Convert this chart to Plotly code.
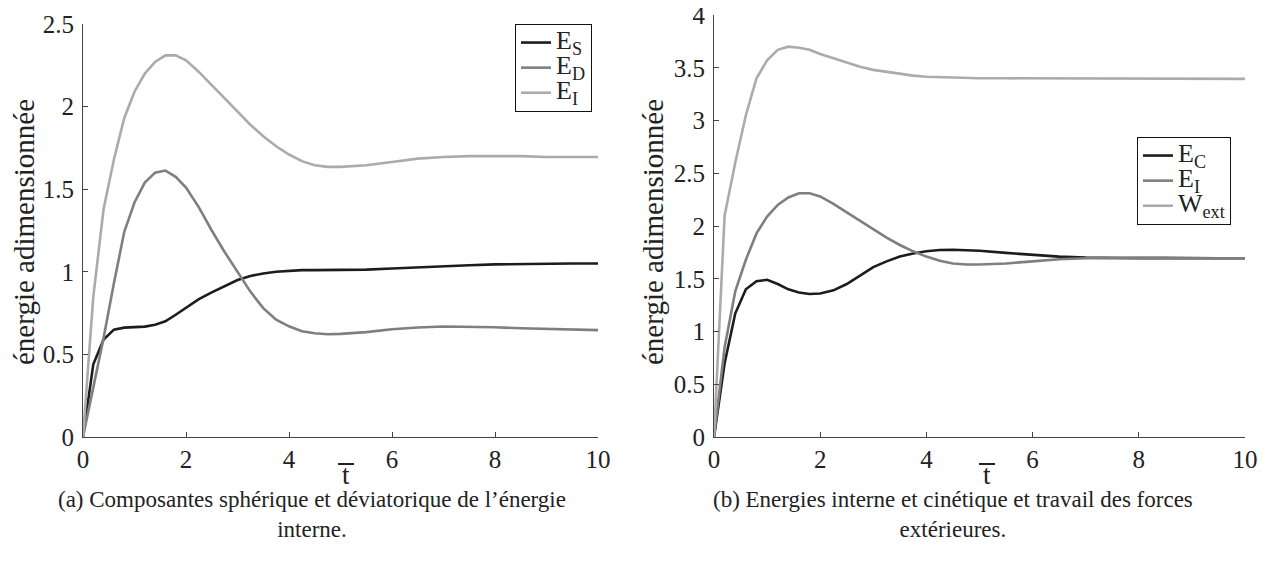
import plotly.graph_objects as go

# ---------------- data ----------------
t = [0, 0.2, 0.4, 0.6, 0.8, 1.0, 1.2, 1.4, 1.6, 1.8, 2.0,
     2.25, 2.5, 2.75, 3.0, 3.25, 3.5, 3.75, 4.0, 4.25, 4.5, 4.75, 5.0,
     5.5, 6.0, 6.5, 7.0, 7.5, 8.0, 8.5, 9.0, 9.5, 10.0]

# (a) spherical / deviatoric components of internal energy
E_S = [0, 0.44, 0.59, 0.65, 0.662, 0.665, 0.668, 0.68, 0.70, 0.74, 0.78,
       0.835, 0.875, 0.915, 0.95, 0.975, 0.99, 1.0, 1.005, 1.01, 1.01, 1.01, 1.01,
       1.013, 1.02, 1.028, 1.035, 1.04, 1.045, 1.048, 1.05, 1.05, 1.05]
E_D = [0, 0.30, 0.60, 0.93, 1.24, 1.42, 1.54, 1.60, 1.613, 1.575, 1.51,
       1.39, 1.25, 1.12, 1.0, 0.88, 0.78, 0.71, 0.67, 0.64, 0.628, 0.622, 0.624,
       0.635, 0.652, 0.663, 0.669, 0.668, 0.664, 0.658, 0.653, 0.649, 0.647]
E_I = [0, 0.85, 1.38, 1.68, 1.93, 2.09, 2.20, 2.27, 2.31, 2.31, 2.28,
       2.21, 2.13, 2.05, 1.97, 1.89, 1.82, 1.76, 1.71, 1.67, 1.645, 1.635, 1.635,
       1.645, 1.665, 1.685, 1.695, 1.70, 1.70, 1.70, 1.695, 1.695, 1.695]

# (b) kinetic energy, internal energy, external work
E_C = [0, 0.70, 1.17, 1.40, 1.476, 1.49, 1.45, 1.40, 1.37, 1.356, 1.36,
       1.39, 1.45, 1.53, 1.61, 1.665, 1.71, 1.74, 1.76, 1.772, 1.775, 1.77, 1.765,
       1.745, 1.725, 1.71, 1.70, 1.695, 1.695, 1.695, 1.695, 1.695, 1.695]
W_ext = [0, 2.10, 2.60, 3.05, 3.40, 3.57, 3.67, 3.70, 3.69, 3.67, 3.63,
         3.59, 3.55, 3.51, 3.48, 3.46, 3.44, 3.425, 3.415, 3.41, 3.405, 3.40, 3.40,
         3.40, 3.40, 3.40, 3.40, 3.40, 3.40, 3.40, 3.40, 3.395, 3.395]

x_ticks = [0, 2, 4, 6, 8, 10]
ya_ticks = [0, 0.5, 1, 1.5, 2, 2.5]
yb_ticks = [0, 0.5, 1, 1.5, 2, 2.5, 3, 3.5, 4]

names_a = ["E", "S", "E", "D", "E", "I"]
names_b = ["E", "C", "E", "I", "W", "ext"]

y_title = "énergie adimensionnée"
caption_a = "(a) Composantes sphérique et déviatorique de l’énergie<br>interne."
caption_b = "(b) Energies interne et cinétique et travail des forces<br>extérieures."

# ---------------- styling ----------------
FONT = "Liberation Serif"
TXT = "#222222"
BLACK = "#1c1c1c"
MID = "#7f7f7f"
LIGHT = "#ababab"
W, H = 1276, 575
OFF = 8  # page body margin


def px_x(p):
    return (p - OFF) / W


def px_y(p):
    return (H - p + OFF) / H


def leg_name(main, sub):
    return f'<span style="font-size:26px">{main}<sub>{sub}</sub></span>'


fig = go.Figure()
line_w = 2.6

cols = [BLACK, MID, LIGHT]
for i, (ys, c) in enumerate(zip([E_S, E_D, E_I], cols)):
    fig.add_trace(go.Scatter(x=t, y=ys, mode="lines",
                             name=leg_name(names_a[2 * i], names_a[2 * i + 1]),
                             line=dict(color=c, width=line_w),
                             xaxis="x", yaxis="y", legend="legend"))
for i, (ys, c) in enumerate(zip([E_C, E_I, W_ext], cols)):
    fig.add_trace(go.Scatter(x=t, y=ys, mode="lines",
                             name=leg_name(names_b[2 * i], names_b[2 * i + 1]),
                             line=dict(color=c, width=line_w),
                             xaxis="x2", yaxis="y2", legend="legend2"))

axis_common = dict(
    showline=True, linecolor="#444444", linewidth=1,
    ticks="inside", ticklen=5, tickwidth=1, tickcolor="#444444",
    showgrid=False, zeroline=False, ticklabeloverflow="allow",
    tickfont=dict(family=FONT, size=25, color=TXT),
)

legend_common = dict(
    xanchor="left", yanchor="top",
    bordercolor="#111111", borderwidth=1, bgcolor="white",
    font=dict(family=FONT, size=17, color=TXT),
    tracegroupgap=0, itemwidth=30,
)

fig.update_layout(
    width=W, height=H,
    margin=dict(l=0, r=0, t=0, b=0, autoexpand=False),
    paper_bgcolor="white", plot_bgcolor="white",
    font=dict(family=FONT, color=TXT),
    xaxis=dict(domain=[px_x(83), px_x(598)], range=[0, 10], tickvals=x_ticks,
               anchor="y", ticklabelstandoff=0, **axis_common),
    yaxis=dict(domain=[px_y(437), px_y(24)], range=[0, 2.5], tickvals=ya_ticks,
               anchor="x", ticklabelstandoff=3, **axis_common),
    xaxis2=dict(domain=[px_x(714), px_x(1245)], range=[0, 10], tickvals=x_ticks,
                anchor="y2", ticklabelstandoff=0, **axis_common),
    yaxis2=dict(domain=[px_y(437), px_y(15)], range=[0, 4], tickvals=yb_ticks,
                anchor="x2", ticklabelstandoff=3, **axis_common),
    legend=dict(x=px_x(515), y=px_y(24), **legend_common),
    legend2=dict(x=px_x(1137), y=px_y(137), **legend_common),
    showlegend=True,
)

ann_font_lbl = dict(family=FONT, size=29, color=TXT)
ann_font_t = dict(family=FONT, size=27, color=TXT)
ann_font_cap = dict(family=FONT, size=23, color=TXT)
annotations = [
    dict(text=y_title, x=px_x(24), y=px_y(232), textangle=-90, font=ann_font_lbl),
    dict(text=y_title, x=px_x(653), y=px_y(232), textangle=-90, font=ann_font_lbl),
    dict(text="t", x=px_x(346), y=px_y(475), font=ann_font_t),
    dict(text="t", x=px_x(987), y=px_y(475), font=ann_font_t),
    dict(text=caption_a, x=px_x(312), y=px_y(514), align="center", font=ann_font_cap),
    dict(text=caption_b, x=px_x(953), y=px_y(514), align="center", font=ann_font_cap),
]
for a in annotations:
    a.update(xref="paper", yref="paper", showarrow=False,
             xanchor="center", yanchor="middle")
fig.update_layout(annotations=annotations)

# overbars on the t labels
for cx in (346, 987):
    fig.add_shape(type="line", xref="paper", yref="paper",
                  x0=px_x(cx - 8), x1=px_x(cx + 8), y0=px_y(464), y1=px_y(464),
                  line=dict(color=TXT, width=2))

fig.write_html("out.html")
